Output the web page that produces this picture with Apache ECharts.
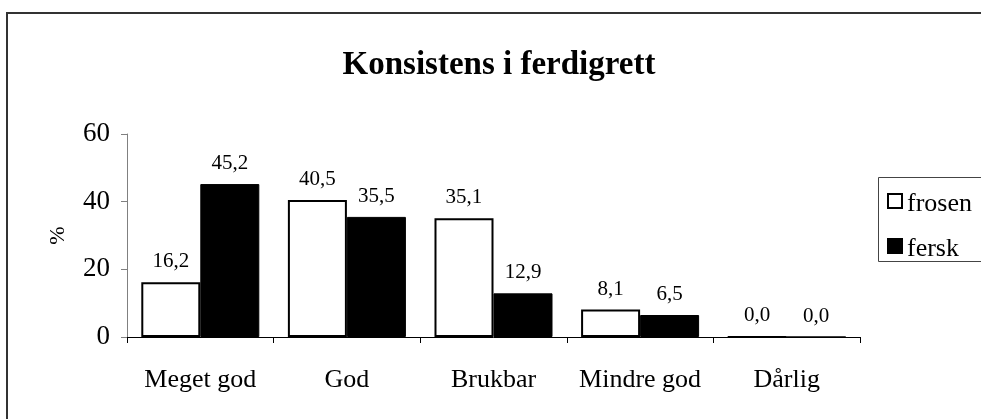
<!DOCTYPE html>
<html>
<head>
<meta charset="utf-8">
<script src="https://cdn.jsdelivr.net/npm/echarts@6/dist/echarts.min.js"></script>
<style>
html,body{margin:0;padding:0;background:#fff;}
#c{width:981px;height:419px;}
</style>
</head>
<body>
<div id="c"></div>
<script>
const categories = ['Meget god', 'God', 'Brukbar', 'Mindre god', 'Dårlig'];
const frosen = [16.2, 40.5, 35.1, 8.1, 0.0];
const fersk = [45.2, 35.5, 12.9, 6.5, 0.0];
const yTicks = [0, 20, 40, 60];

const FONT = "'Liberation Serif', 'Times New Roman', serif";
const chart = echarts.init(document.getElementById('c'), null, {renderer: 'canvas'});
const fmt = p => p.value.toFixed(1).replace('.', ',');
chart.setOption({
  animation: false,
  backgroundColor: '#fff',
  graphic: [
    {
      type: 'rect', shape: {x: 7, y: 13, width: 1000, height: 440},
      style: {fill: 'none', stroke: '#333', lineWidth: 2}, silent: true, z: 0
    },
    {
      type: 'rect', shape: {x: 878.5, y: 177.5, width: 120, height: 84},
      style: {fill: 'none', stroke: '#444', lineWidth: 1}, silent: true, z: 0
    }
  ],
  title: {
    text: 'Konsistens i ferdigrett',
    left: 494, top: 44, textAlign: 'center',
    textStyle: {fontFamily: FONT, fontSize: 33, fontWeight: 'bold', color: '#000'}
  },
  legend: {
    orient: 'vertical', left: 887, top: 191,
    padding: 0, itemGap: 19,
    itemWidth: 14, itemHeight: 14, itemTextGap: 1,
    icon: 'rect',
    formatter: '{a|{name}}',
    textStyle: {fontFamily: FONT, fontSize: 26, color: '#000',
      rich: {a: {fontFamily: FONT, fontSize: 26, color: '#000', padding: [3, 0, -3, 0]}}},
    data: ['frosen', 'fersk']
  },
  grid: {left: 127, right: 121, top: 134, bottom: 82},
  xAxis: {
    type: 'category', data: categories,
    axisLine: {lineStyle: {color: '#000', width: 1}},
    axisTick: {show: true, length: 6, lineStyle: {color: '#000'}},
    axisLabel: {fontFamily: FONT, fontSize: 26, color: '#000', margin: 30, interval: 0}
  },
  yAxis: {
    type: 'value', min: 0, max: 60, interval: 20,
    name: '%', nameLocation: 'middle', nameGap: 58, nameRotate: 90,
    nameTextStyle: {fontFamily: FONT, fontSize: 22, color: '#000'},
    axisLine: {show: true, lineStyle: {color: '#808080', width: 1}},
    axisTick: {show: true, length: 6, lineStyle: {color: '#808080'}},
    axisLabel: {fontFamily: FONT, fontSize: 27, color: '#000', margin: 17,
      formatter: v => yTicks.includes(v) ? String(v) : ''},
    splitLine: {show: false}
  },
  series: [
    {
      name: 'frosen', type: 'bar', data: frosen,
      barGap: '0%', barCategoryGap: '19.5%',
      itemStyle: {color: '#fff', borderColor: '#000', borderWidth: 2},
      label: {show: true, position: 'top', distance: 10, formatter: fmt,
        fontFamily: FONT, fontSize: 21, color: '#000'}
    },
    {
      name: 'fersk', type: 'bar', data: fersk,
      itemStyle: {color: '#000', borderColor: '#000', borderWidth: 1},
      label: {show: true, position: 'top', distance: 10, formatter: fmt,
        fontFamily: FONT, fontSize: 21, color: '#000'}
    }
  ]
});
</script>
</body>
</html>
